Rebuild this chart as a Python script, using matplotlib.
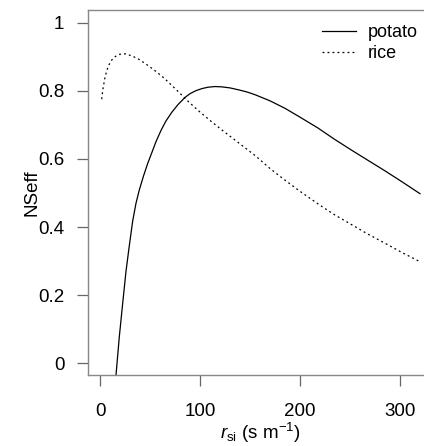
import matplotlib
matplotlib.use("Agg")
import matplotlib.pyplot as plt

plt.rcParams["font.family"] = ["Liberation Sans", "DejaVu Sans"]
plt.rcParams["mathtext.fontset"] = "custom"
plt.rcParams["mathtext.rm"] = "Liberation Sans"
plt.rcParams["mathtext.it"] = "Liberation Sans:italic"

# potato curve
potato_x = [15, 16, 19.3, 22.7, 26, 29.3, 32.7, 36, 39.3, 43.5, 47.7, 52, 56, 61, 66,
            72, 78, 85, 90, 96, 102, 108, 115, 122, 130, 139, 147, 155, 170, 185, 200,
            218, 234, 251, 268, 284, 302, 320]
potato_y = [-0.06, -0.035, 0.077, 0.176, 0.27, 0.345, 0.418, 0.47, 0.509, 0.55, 0.587,
            0.62, 0.651, 0.684, 0.712, 0.738, 0.76, 0.781, 0.792, 0.801, 0.807,
            0.811, 0.813, 0.812, 0.809, 0.803, 0.797, 0.789, 0.771, 0.749, 0.723,
            0.691, 0.659, 0.627, 0.596, 0.567, 0.533, 0.498]

# rice curve
rice_x = [1.7, 3, 5, 7, 9, 12, 15.7, 20, 25.7, 32, 39, 47, 55.7, 64, 72.3, 80, 89,
          100, 111, 122, 134, 145, 156, 170, 184, 200, 218, 234, 251, 268, 284, 302, 320]
rice_y = [0.776, 0.807, 0.84, 0.862, 0.877, 0.892, 0.902, 0.908, 0.909, 0.903, 0.893,
          0.877, 0.858, 0.838, 0.815, 0.793, 0.767, 0.738, 0.711, 0.685, 0.658, 0.633,
          0.608, 0.572, 0.540, 0.505, 0.468, 0.437, 0.408, 0.379, 0.354, 0.325, 0.298]

x_ticks = [0, 100, 200, 300]
y_ticks = [0, 0.2, 0.4, 0.6, 0.8, 1]
y_tick_labels = ["0", "0.2", "0.4", "0.6", "0.8", "1"]

W, H = 424, 446
fig = plt.figure(figsize=(W / 100, H / 100), dpi=100)
ax = fig.add_axes([88 / W, 1 - 375 / H, (432 - 88) / W, (375 - 10) / H])

ax.plot(potato_x, potato_y, color="black", lw=0.9, label="potato")
ax.plot(rice_x, rice_y, color="black", lw=0.9, linestyle=(0, (1.5, 2.5)), label="rice")

ax.set_xlim(-12, 332)
ax.set_ylim(-0.035, 1.038)
ax.set_xticks(x_ticks)
ax.set_yticks(y_ticks)
ax.set_yticklabels(y_tick_labels)

grey = "#666666"
for s in ax.spines.values():
    s.set_color("#888888")
    s.set_linewidth(1.0)
ax.tick_params(axis="both", length=8, width=0.9, color=grey, labelsize=13.5,
               labelcolor="black")
ax.tick_params(axis="x", pad=12)
ax.tick_params(axis="y", pad=9)

ax.set_ylabel("NSeff", fontsize=13.5)
ax.yaxis.set_label_coords(-0.138, 0.5)
ax.set_xlabel(r"$r_{\mathrm{si}}$ (s m$^{-1}$)", fontsize=13.5)
ax.xaxis.set_label_coords(0.5, -0.125)

ax.legend(loc="upper left", bbox_to_anchor=(0.633, 1.005), frameon=False,
          fontsize=13, handlelength=1.88, handletextpad=0.66, labelspacing=0.2)

fig.savefig("out.png", dpi=100)
